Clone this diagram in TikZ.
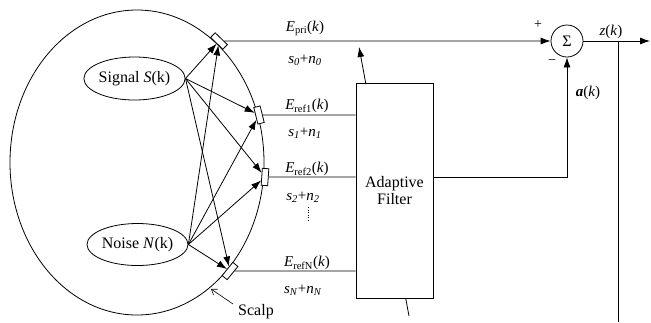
\documentclass[tikz,border=0pt]{standalone}
\usepackage{fontspec}
\setmainfont{Liberation Serif}
\usetikzlibrary{shapes.geometric,arrows.meta,calc}
\begin{document}
\begin{tikzpicture}[x=1pt,y=-1pt,
  line width=0.8pt,
  every node/.style={font=\fontsize{16}{17}\selectfont},
  lbl/.style={font=\fontsize{15}{16}\selectfont, inner sep=0},
  src/.style={ellipse, draw, inner sep=0, minimum width=86, minimum height=43},
  elec/.style={rectangle, draw, fill=white, minimum width=17, minimum height=6.5, inner sep=0},
  arr/.style={-{Latex[length=10pt,width=7pt]}},
]
\useasboundingbox (0,0) rectangle (651,322);
% scalp and sources
\node[ellipse, draw, minimum width=254, minimum height=305, inner sep=0] (scalp) at (137,162.5) {};
\node[src] (sig) at (134.5,78.5) {Signal \textit{S}(k)};
\node[src, minimum height=42] (noi) at (137.5,244.5) {Noise \textit{N}(k)};
% electrodes
\node[elec, rotate=-44] (e1) at (219,41) {};
\node[elec, rotate=-76] (e2) at (259,115) {};
\node[elec, rotate=86] (e3) at (265,177) {};
\node[elec, rotate=51] (e4) at (230,271) {};
% propagation arrows
\foreach \s in {sig,noi}
  \foreach \e in {e1,e2,e3,e4}
    \draw[arr] (\s.east) -- (\e);
% adaptation arrow (behind the filter box)
\coordinate (adjt) at (409,316);
\coordinate (adjh) at (359,47);
\draw[arr] (adjt) -- (adjh);
% filter and summer
\node[draw, fill=white, minimum width=77, minimum height=215, align=center] (box) at (394.5,190.5) {Adaptive\\Filter};
\node[circle, draw, minimum size=32, inner sep=0] (sum) at (567,41) {Σ};
% electrode leads
\draw[arr] (e1) -- (sum);
\draw (e2) -- (e2 -| box.west);
\draw (e3) -- (e3 -| box.west);
\draw (e4) -- (e4 -| box.west);
% filter output
\draw[arr] (box.east |- e3) -| (sum.south);
% output and feedback
\coordinate (out) at (650,41);
\coordinate (tap) at (618,41);
\coordinate (fb) at (618,322);
\draw[arr] (sum) -- (out);
\draw (tap) -- (fb);
% labels
\node[lbl] (lpri) at (305,28) {\textit{E}\textsubscript{pri}(\textit{k})};
\node[lbl] (s0) at (305,60) {\textit{s}\textsubscript{\textit{0}}+\textit{n}\textsubscript{\textit{0}}};
\node[lbl] (lr1) at (307,106) {\textit{E}\textsubscript{ref1}(\textit{k})};
\node[lbl] (s1) at (305,133) {\textit{s}\textsubscript{\textit{1}}+\textit{n}\textsubscript{\textit{1}}};
\node[lbl] (lr2) at (307,169) {\textit{E}\textsubscript{ref2}(\textit{k})};
\node[lbl] (s2) at (303,197) {\textit{s}\textsubscript{\textit{2}}+\textit{n}\textsubscript{\textit{2}}};
\node[lbl] (lrN) at (307,263) {\textit{E}\textsubscript{refN}(\textit{k})};
\node[lbl] (sN) at (303,290) {\textit{s}\textsubscript{\textit{N}}+\textit{n}\textsubscript{\textit{N}}};
\coordinate (dt1) at (308,207);
\coordinate (dt2) at (308,222);
\draw[dotted, line width=0.6pt] (dt1) -- (dt2);
\node[font=\fontsize{14}{14}\selectfont, inner sep=0] (plus) at (538,25) {+};
\node[font=\fontsize{14}{14}\selectfont, inner sep=0] (minus) at (552,62) {−};
\node[lbl] (zk) at (611,32) {\textit{z}(\textit{k})};
\node[lbl] (ak) at (588,93) {\textbf{\textit{a}}(\textit{k})};
% scalp label
\node[inner sep=0] (scalplbl) at (256,312) {Scalp};
\coordinate (sct) at (233,304);
\coordinate (sch) at (211,289);
\draw[-{Straight Barb[length=5pt,width=7pt]}, line width=0.6pt] (sct) -- (sch);
\end{tikzpicture}
\end{document}
